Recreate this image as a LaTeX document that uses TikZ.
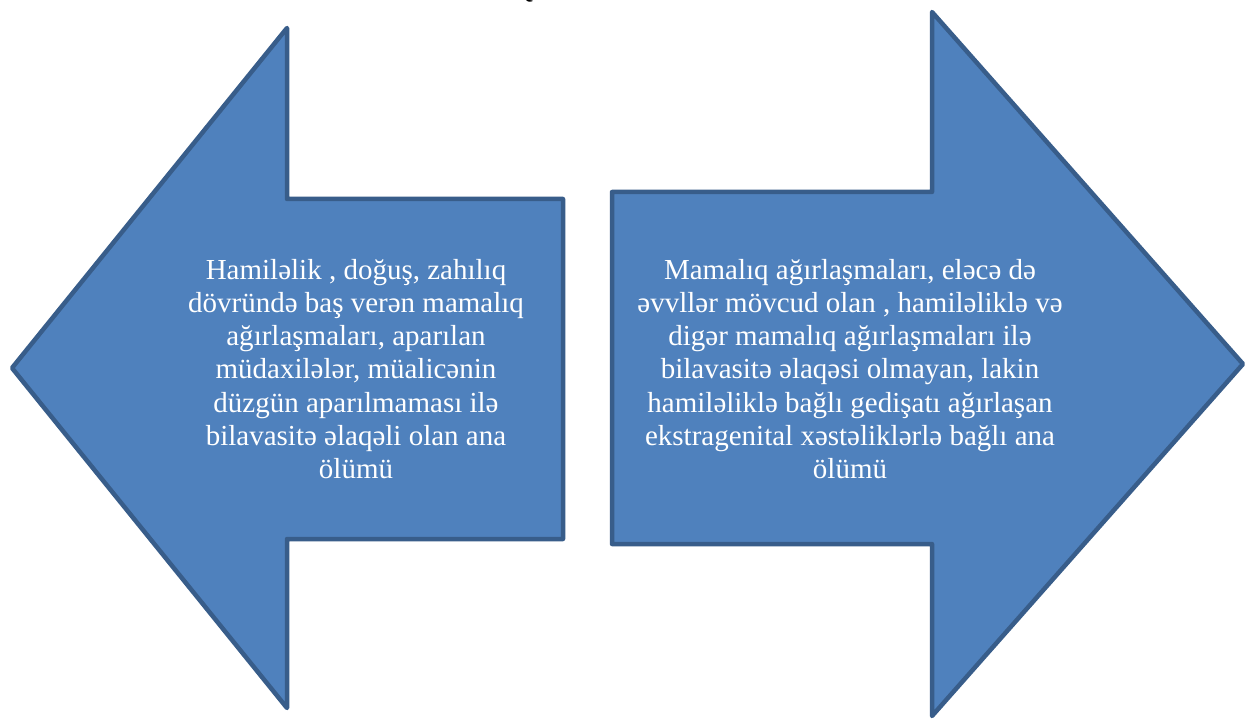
\documentclass[tikz,border=0pt]{standalone}
\usepackage{fontspec}
\setmainfont{Liberation Serif}
\definecolor{arrowfill}{HTML}{4F81BD}
\definecolor{arrowline}{HTML}{385D8A}
\tikzset{
  bigarrow/.style={fill=arrowfill, draw=arrowline, line width=4.5pt, line join=round},
  arrowtext/.style={text=white, align=center, inner sep=0pt, font=\fontsize{29}{33.3}\selectfont}
}
\begin{document}
\begin{tikzpicture}[x=1pt,y=-1pt]
\useasboundingbox (0,0) rectangle (1247,719);
\fill[white] (0,0) rectangle (1247,719);
% partial title glyph cut at the top edge
\node[anchor=base west, inner sep=0pt, font=\fontsize{29}{33}\selectfont] (title) at (512,-2) {Q};
% left arrow
\draw[bigarrow] (12,368) -- (287,28) -- (287,199) -- (563,199) -- (563,539) -- (287,539) -- (287,708) -- cycle;
% right arrow
\draw[bigarrow] (612,192) -- (932,192) -- (932,12) -- (1243,364) -- (932,716) -- (932,544) -- (612,544) -- cycle;
\node[arrowtext] (lefttext) at (356,369) {Hamilәlik , doğuş, zahılıq\\dövründә baş verәn mamalıq\\ağırlaşmaları, aparılan\\müdaxilәlәr, müalicәnin\\düzgün aparılmaması ilә\\bilavasitә әlaqәli olan ana\\ölümü};
\node[arrowtext] (righttext) at (850,369) {Mamalıq ağırlaşmaları, elәcә dә\\әvvllәr mövcud olan , hamilәliklә vә\\digәr mamalıq ağırlaşmaları ilә\\bilavasitә әlaqәsi olmayan, lakin\\hamilәliklә bağlı gedişatı ağırlaşan\\ekstragenital xәstәliklәrlә bağlı ana\\ölümü};
\end{tikzpicture}
\end{document}
